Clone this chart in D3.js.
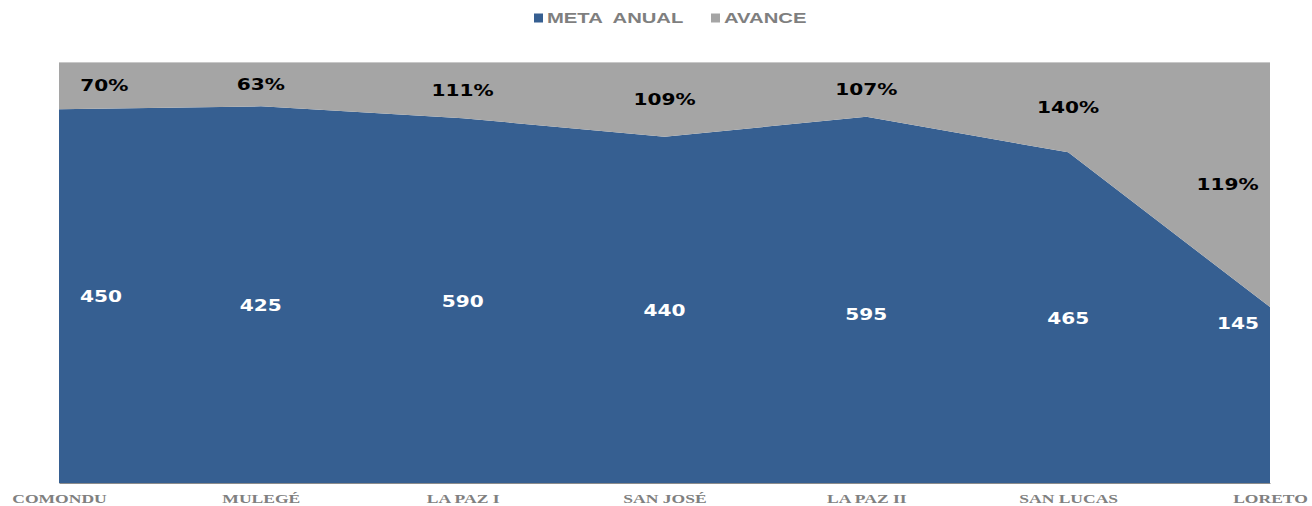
<!DOCTYPE html>
<html>
<head>
<meta charset="utf-8">
<script src="https://cdn.jsdelivr.net/npm/d3@7"></script>
<style>
  html, body { margin: 0; padding: 0; background: #ffffff; }
  svg { display: block; }
</style>
</head>
<body>
<svg id="chart" width="1312" height="506"></svg>
<script>
// ---- data ----
const categories = ["COMONDU", "MULEGÉ", "LA PAZ I", "SAN JOSÉ", "LA PAZ II", "SAN LUCAS", "LORETO"];
const metaAnual = [450, 425, 590, 440, 595, 465, 145];
const avance = [57, 50, 91, 95, 89, 127, 202];
const avanceLabels = ["70%", "63%", "111%", "109%", "107%", "140%", "119%"];
const seriesNames = ["META  ANUAL", "AVANCE"];

// ---- layout / style ----
const W = 1312, H = 506;
const plot = { left: 59, right: 1270, top: 62, bottom: 483 };
const colors = { meta: "#365F91", avance: "#A5A5A5" };
const metaLabelY = [296, 305, 301, 310, 314, 318, 323];
const SX = 1.22; // horizontal stretch of the data label glyphs

const svg = d3.select("#chart");

const rows = categories.map((c, i) => ({ cat: c, meta: metaAnual[i], avance: avance[i] }));
const stack = d3.stack().keys(["meta", "avance"]).offset(d3.stackOffsetExpand);
const layers = stack(rows);

const x = d3.scalePoint().domain(categories).range([plot.left, plot.right]);
const y = d3.scaleLinear().domain([0, 1]).range([plot.bottom, plot.top]);

const area = d3.area()
  .x(d => x(d.data.cat))
  .y0(d => y(d[0]))
  .y1(d => y(d[1]));

svg.append("g").selectAll("path")
  .data(layers)
  .join("path")
  .attr("d", area)
  .attr("fill", d => d.key === "meta" ? colors.meta : colors.avance);

// top light edge
svg.append("line")
  .attr("x1", plot.left).attr("x2", plot.right)
  .attr("y1", plot.top + 0.5).attr("y2", plot.top + 0.5)
  .attr("stroke", "#c8c8c8").attr("stroke-width", 1);

// x axis
const xAxis = d3.axisBottom(x).tickSize(0).tickPadding(0);
const gx = svg.append("g").attr("transform", `translate(0,${plot.bottom})`).call(xAxis);
gx.select(".domain").attr("stroke", "#8c8c8c").attr("stroke-width", 1);
gx.selectAll(".tick text")
  .attr("y", 0).attr("dy", 0)
  .attr("transform", "translate(0,19.5) scale(1.3,1)")
  .attr("fill", "#808080")
  .attr("font-family", "'Liberation Serif', 'DejaVu Serif', serif")
  .attr("font-weight", "bold")
  .attr("font-size", "13.5px");

// data labels
function placeLabel(g, text, cx, cy, fill) {
  const t = g.append("text")
    .attr("text-anchor", "middle")
    .attr("dominant-baseline", "central")
    .attr("font-family", "'DejaVu Sans', Verdana, sans-serif")
    .attr("font-weight", "bold")
    .attr("font-size", "16.5px")
    .attr("fill", fill)
    .text(text);
  const w = t.node().getBBox().width * SX;
  const xc = Math.max(plot.left + 21 + w / 2, Math.min(plot.right - 11 - w / 2, cx));
  t.attr("transform", `translate(${xc},${cy}) scale(${SX},1)`);
}
const gl = svg.append("g");
layers[0].forEach((d, i) => {
  placeLabel(gl, String(metaAnual[i]), x(categories[i]), metaLabelY[i], "#ffffff");
});
layers[1].forEach((d, i) => {
  const cy = (y(d[0]) + y(d[1])) / 2;
  placeLabel(gl, avanceLabels[i], x(categories[i]), cy, "#000000");
});

// legend
const legend = svg.append("g");
const legendItems = [
  { name: seriesNames[0], color: colors.meta, x: 534, tx: 547 },
  { name: seriesNames[1], color: colors.avance, x: 711, tx: 724 }
];
legendItems.forEach(it => {
  legend.append("rect").attr("x", it.x).attr("y", 13.5).attr("width", 9).attr("height", 9).attr("fill", it.color);
  legend.append("text")
    .attr("transform", `translate(${it.tx},23.3) scale(1.35,1)`)
    .attr("font-family", "'Liberation Sans', Arial, sans-serif")
    .attr("font-weight", "bold")
    .attr("font-size", "15px")
    .attr("fill", "#7f7f7f")
    .style("white-space", "pre")
    .attr("xml:space", "preserve")
    .text(it.name);
});
</script>
</body>
</html>
